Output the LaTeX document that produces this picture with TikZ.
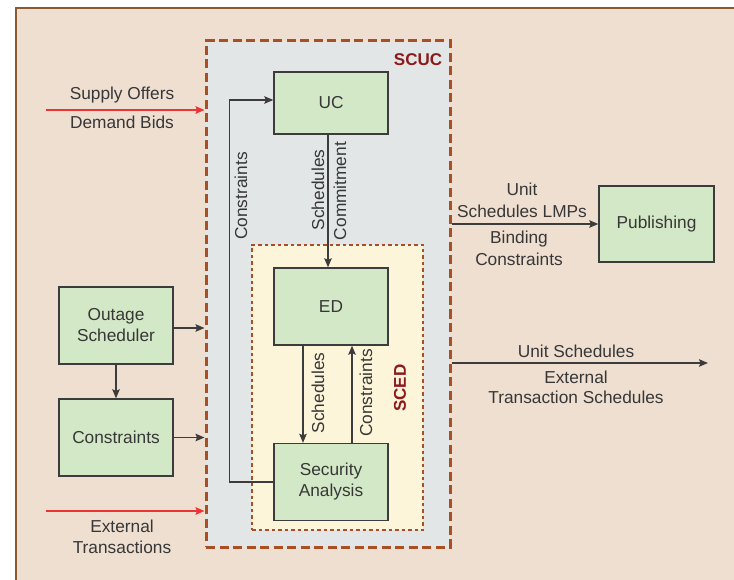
\documentclass[tikz,border=0pt]{standalone}
\usepackage{fontspec}
\setmainfont{Liberation Sans}
\usetikzlibrary{arrows.meta}
\definecolor{bgbeige}{RGB}{239,223,208}
\definecolor{framebrown}{RGB}{140,88,48}
\definecolor{scucfill}{RGB}{227,230,230}
\definecolor{dashbrown}{RGB}{170,78,36}
\definecolor{scedfill}{RGB}{253,245,218}
\definecolor{boxgreen}{RGB}{211,232,198}
\definecolor{boxline}{RGB}{60,60,60}
\definecolor{txt}{RGB}{55,55,55}
\definecolor{arrred}{RGB}{236,52,52}
\definecolor{lblred}{RGB}{140,26,26}
\tikzset{
  every node/.style={font=\fontsize{17.3}{21}\selectfont, text=txt, inner sep=0pt},
  blockbox/.style={draw=boxline, fill=boxgreen, line width=1.4pt, minimum width=114pt, align=center},
  arr/.style={draw=boxline, line width=1.4pt, -{Stealth[length=9pt,width=7.5pt,inset=1.5pt]}},
  redarr/.style={draw=arrred, line width=1.4pt, -{Stealth[length=9pt,width=7.5pt,inset=1.5pt]}},
  lbl/.style={align=center},
  grouplbl/.style={text=lblred, font=\fontsize{17}{20}\selectfont\bfseries},
}
\begin{document}
\begin{tikzpicture}[x=1pt,y=-1pt]
\useasboundingbox (0,0) rectangle (734,580);
% outer frame
\fill[bgbeige] (16,8) rectangle (734,580);
\draw[framebrown, line width=2.4pt] (16,580) -- (16,8) -- (734,8);
% SCUC group
\node[draw=dashbrown, fill=scucfill, line width=3pt, dash pattern=on 9pt off 4.5pt,
      minimum width=244pt, minimum height=506pt] (scuc) at (328,294) {};
\node[grouplbl] (scuclbl) at (418,60) {SCUC};
% SCED group
\node[draw=dashbrown, fill=scedfill, line width=2pt, dash pattern=on 3.5pt off 3pt,
      minimum width=171pt, minimum height=285pt] (sced) at (337.5,387.5) {};
\node[grouplbl, rotate=90] (scedlbl) at (400,388) {SCED};
% blocks
\node[blockbox, minimum height=62pt] (uc) at (331,103) {UC};
\node[blockbox, minimum height=77pt] (ed) at (331,306.5) {ED};
\node[blockbox, minimum height=77pt] (sa) at (331,482) {Security\\Analysis};
\node[blockbox, minimum height=77pt] (out) at (116,325.5) {Outage\\Scheduler};
\node[blockbox, minimum height=77pt] (cons) at (116,437.5) {Constraints};
\node[blockbox, minimum width=115pt, minimum height=76pt] (pub) at (656.5,224) {Publishing};
% internal connectors
\draw[arr] ([xshift=-3pt]uc.south) -- ([xshift=-3pt]ed.north);
\node[rotate=90] (l1) at (318,190) {Schedules};
\node[rotate=90] (l2) at (340,191) {Commitment};
\draw[arr] (sa.west) -- ++(-44,0) |- ([yshift=3pt]uc.west);
\node[rotate=90] (l3) at (241,196) {Constraints};
\draw[arr] ([xshift=-28pt]ed.south) -- ([xshift=-28pt]sa.north);
\node[rotate=90] (l4) at (318,393) {Schedules};
\draw[arr] ([xshift=21pt]sa.north) -- ([xshift=21pt]ed.south);
\node[rotate=90] (l5) at (366,393) {Constraints};
% left side inputs
\coordinate (soin) at (46,110);
\draw[redarr] (soin) -- (soin -| scuc.west);
\node[lbl] (l6) at (122,95) {Supply Offers};
\node[lbl] (l7) at (122,122) {Demand Bids};
\coordinate (etin) at (46,511);
\draw[redarr] (etin) -- (etin -| scuc.west);
\node[lbl] (l8) at (122,526) {External};
\node[lbl] (l9) at (122,547) {Transactions};
\draw[arr] ([yshift=-2.5pt]out.east) -- ([yshift=-2.5pt]out.east -| scuc.west);
\draw[arr] (cons.east) -- (cons.east -| scuc.west);
\draw[arr] (out.south) -- (cons.north);
% right side outputs
\draw[arr] (scuc.east |- pub.west) -- (pub.west);
\node[lbl] (l10) at (522,189) {Unit};
\node[lbl] (l11) at (522,211) {Schedules LMPs};
\node[lbl] (l12) at (519,239) {Binding};
\node[lbl] (l13) at (519,259) {Constraints};
\coordinate (outend) at (708,363);
\draw[arr] (scuc.east |- outend) -- (outend);
\node[lbl] (l14) at (576,351) {Unit Schedules};
\node[lbl] (l15) at (576,377) {External};
\node[lbl] (l16) at (576,397) {Transaction Schedules};
\end{tikzpicture}
\end{document}
